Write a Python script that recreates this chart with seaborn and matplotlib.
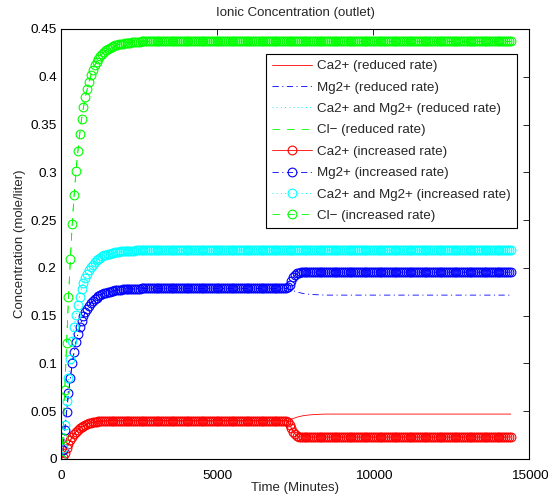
"""Ionic concentration at the outlet, reduced vs increased rate."""

import numpy as np
import matplotlib
matplotlib.use("Agg")
import matplotlib.pyplot as plt
import seaborn as sns
from matplotlib.ticker import FuncFormatter

# one reading every 60 minutes up to 14400 min, rate changes at 7200 min
time_min = np.arange(0, 14401, 60)
switch_idx = 120

# start-up readings (same for both rates), then the level they settle at
cl_rise = [0, 0.022, 0.072, 0.121, 0.169, 0.209, 0.246, 0.276, 0.301, 0.322,
           0.340, 0.356, 0.368, 0.379, 0.387, 0.395, 0.402, 0.407, 0.412, 0.4155,
           0.419, 0.4215, 0.424, 0.426, 0.4275, 0.429, 0.430, 0.431, 0.432, 0.4328,
           0.4334, 0.434, 0.4344, 0.4348, 0.4351, 0.4354, 0.4356, 0.4358, 0.436,
           0.4362, 0.4364, 0.4366, 0.4368]
cl_level = 0.437

sum_rise = [0, 0.011, 0.036, 0.0605, 0.0845, 0.1045, 0.123, 0.138, 0.1505, 0.161,
            0.170, 0.178, 0.184, 0.1895, 0.1935, 0.1975, 0.201, 0.2035, 0.206, 0.2078,
            0.2095, 0.2108, 0.212, 0.213, 0.2138, 0.2145, 0.215, 0.2155, 0.216, 0.2164,
            0.2167, 0.217, 0.2172, 0.2174, 0.2176, 0.2177, 0.2178, 0.2179, 0.218,
            0.2181, 0.2182, 0.2183, 0.2184]
sum_level = 0.2185

ca_rise = [0, 0.002, 0.006, 0.011, 0.0155, 0.0195, 0.023, 0.026, 0.0285, 0.0305,
           0.032, 0.0335, 0.0347, 0.0357, 0.0365, 0.0372, 0.0378, 0.0383, 0.0387,
           0.039, 0.0393, 0.0395, 0.0397, 0.0398, 0.0399]
ca_level = 0.040

mg_rise = [0, 0.009, 0.030, 0.0495, 0.069, 0.085, 0.100, 0.112, 0.122, 0.1305,
           0.138, 0.1445, 0.1493, 0.1538, 0.157, 0.1603, 0.1632, 0.1652, 0.1673,
           0.1688, 0.1702, 0.1713, 0.1723, 0.1732, 0.1739, 0.1745, 0.1750, 0.1755,
           0.1760, 0.1764, 0.1767, 0.1770, 0.1772, 0.1774, 0.1776, 0.1777, 0.1778,
           0.1779, 0.1780, 0.1781, 0.1782, 0.1783, 0.1784]
mg_level = 0.1785

# readings after the rate change
ca_reduced_after = [0.040, 0.0403, 0.041, 0.0418, 0.0425, 0.0432, 0.0438, 0.0443,
                    0.0448, 0.0452, 0.0455, 0.0458, 0.0460, 0.0462, 0.0464, 0.0465,
                    0.0466, 0.0467, 0.0468, 0.0469]
ca_reduced_level = 0.047
mg_reduced_after = [0.1785, 0.1782, 0.1775, 0.1767, 0.176, 0.1753, 0.1747, 0.1742,
                    0.1737, 0.1733, 0.173, 0.1727, 0.1725, 0.1723, 0.1721, 0.172,
                    0.1719, 0.1718, 0.1717, 0.1716]
mg_reduced_level = 0.1715
ca_increased_after = [0.040, 0.039, 0.036, 0.032, 0.0285, 0.026, 0.0243, 0.0235, 0.0231]
ca_increased_level = 0.023
mg_increased_after = [0.1785, 0.1795, 0.1825, 0.1865, 0.190, 0.1925, 0.1942, 0.1950, 0.1954]
mg_increased_level = 0.1955


def hold(values, level, length):
    """Extend readings with the flat level the curve settles at."""
    return list(values) + [level] * (length - len(values))


n = len(time_min)
cl = hold(cl_rise, cl_level, n)
ca_mg = hold(sum_rise, sum_level, n)
ca_start = hold(ca_rise, ca_level, switch_idx)
mg_start = hold(mg_rise, mg_level, switch_idx)
ca_reduced = ca_start + hold(ca_reduced_after, ca_reduced_level, n - switch_idx)
mg_reduced = mg_start + hold(mg_reduced_after, mg_reduced_level, n - switch_idx)
ca_increased = ca_start + hold(ca_increased_after, ca_increased_level, n - switch_idx)
mg_increased = mg_start + hold(mg_increased_after, mg_increased_level, n - switch_idx)

sns.set_style("white")
plt.rcParams["font.family"] = ["Liberation Sans", "DejaVu Sans"]
plt.rcParams["lines.scale_dashes"] = False

solid = "-"
dashdot = (0, (4.5, 2.5, 0.8, 2.5))
dotted = (0, (0.8, 2.2))
dashed = (0, (5.5, 5))

series = [
    ("Ca2+ (reduced rate)", ca_reduced, "#ff0000", solid, False),
    ("Mg2+ (reduced rate)", mg_reduced, "#0000ff", dashdot, False),
    ("Ca2+ and Mg2+ (reduced rate)", ca_mg, "#00ffff", dotted, False),
    ("Cl\u2212 (reduced rate)", cl, "#00ff00", dashed, False),
    ("Ca2+ (increased rate)", ca_increased, "#ff0000", solid, True),
    ("Mg2+ (increased rate)", mg_increased, "#0000ff", dashdot, True),
    ("Ca2+ and Mg2+ (increased rate)", ca_mg, "#00ffff", dotted, True),
    ("Cl\u2212 (increased rate)", cl, "#00ff00", dashed, True),
]

fig = plt.figure(figsize=(5.48, 4.99), dpi=100)
ax = fig.add_axes([0.1113, 0.0802, 0.8549, 0.8617])

for label, values, color, ls, with_marker in series:
    kws = dict(color=color, linestyle=ls, linewidth=0.6, label=label)
    if with_marker:
        kws.update(marker="o", markersize=6.3, markerfacecolor="none",
                   markeredgecolor=color, markeredgewidth=0.8)
    sns.lineplot(x=time_min, y=values, ax=ax, **kws)

ax.set_xlim(0, 15000)
ax.set_ylim(0, 0.45)
ax.set_xticks([0, 5000, 10000, 15000])
ax.set_yticks(np.arange(0, 0.451, 0.05))
ax.yaxis.set_major_formatter(FuncFormatter(lambda v, _: f"{v:g}"))
ax.tick_params(direction="in", top=True, right=True, length=4, width=0.6,
               labelsize=9.7, colors="black", pad=3)
ax.tick_params(axis="x", pad=8)
for spine in ax.spines.values():
    spine.set_color("black")
    spine.set_linewidth(0.8)

ax.set_title("Ionic Concentration (outlet)", fontsize=9.5, pad=9)
ax.set_xlabel("Time (Minutes)", fontsize=9.5, labelpad=0)
ax.set_ylabel("Concentration (mole/liter)", fontsize=9.5, labelpad=3)

leg = ax.legend(loc="upper right", bbox_to_anchor=(0.973, 0.942), fontsize=9.6,
                frameon=True, fancybox=False, framealpha=1, edgecolor="black",
                handlelength=3, handletextpad=0.4, labelspacing=0.68,
                borderpad=0.45, borderaxespad=0)
leg.get_frame().set_linewidth(0.8)

fig.savefig("out.png", dpi=100)
plt.close(fig)
